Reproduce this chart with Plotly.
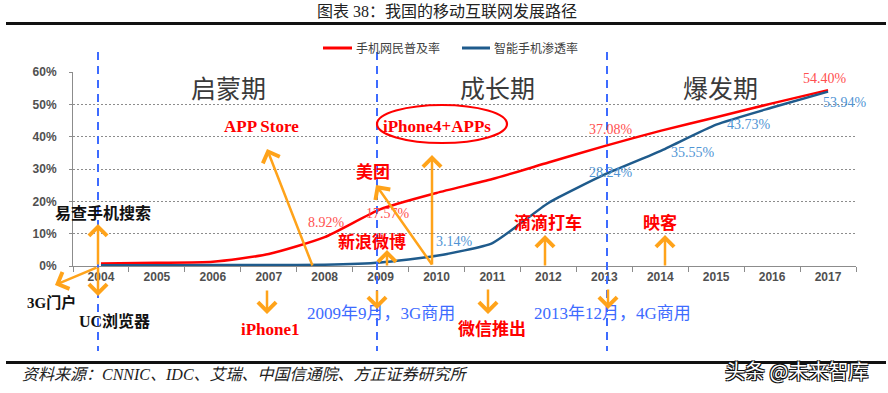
import plotly.graph_objects as go

# ---------------- data ----------------
years = ["2004", "2005", "2006", "2007", "2008", "2009", "2010",
         "2011", "2012", "2013", "2014", "2015", "2016", "2017"]
mobile_netizen_rate = [0.8, 1.0, 1.3, 3.7, 8.92, 17.57, 22.6,
                       26.9, 32.0, 37.08, 41.8, 46.0, 50.3, 54.40]
smartphone_rate = [0.2, 0.2, 0.3, 0.3, 0.4, 1.1, 3.14,
                   7.1, 19.5, 28.24, 35.55, 43.73, 49.0, 53.94]
series_names = ["手机网民普及率", "智能手机渗透率"]
y_ticks = [0, 10, 20, 30, 40, 50, 60]
y_tick_labels = ["0%", "10%", "20%", "30%", "40%", "50%", "60%"]
phase_names = ["启蒙期", "成长期", "爆发期"]
title_text = "图表 38：我国的移动互联网发展路径"
source_text = "资料来源：CNNIC、IDC、艾瑞、中国信通院、方正证券研究所"
watermark = "头条 @未来智库"

# labelled points: (series index, year, value)
labelled = [(0, "2008", 8.92), (0, "2009", 17.57), (1, "2010", 3.14),
            (0, "2013", 37.08), (1, "2013", 28.24), (1, "2014", 35.55),
            (1, "2015", 43.73), (0, "2017", 54.40), (1, "2017", 53.94)]

# ---------------- geometry helpers (pixel -> paper) ----------------
W, H = 888, 393
L, R, T, B = 73, 856, 72, 266


def px(x):
    return (x - L) / (R - L)


def py(y):
    return (B - y) / (B - T)


RED = "#FF0000"
BLUE = "#1F5B8C"
ORANGE = "#FFA31A"
DBLUE = "#3D6BFF"
SERIF = "Liberation Serif, 'Noto Sans CJK SC', serif"
SANS = "Liberation Sans, Arial, 'Noto Sans CJK SC', sans-serif"

fig = go.Figure()
fig.add_trace(go.Scatter(x=years, y=mobile_netizen_rate, name=series_names[0],
                         mode="lines", line=dict(color=RED, width=2.5, shape="spline", smoothing=0.6),
                         showlegend=False))
fig.add_trace(go.Scatter(x=years, y=smartphone_rate, name=series_names[1],
                         mode="lines", line=dict(color=BLUE, width=2.5, shape="spline", smoothing=0.5),
                         showlegend=False))

ann = []
shapes = []


def text(t, x, y, size, color, family=SERIF, weight=400, xanchor="center", style="normal", shadow=None):
    f = dict(size=size, color=color, family=family, weight=weight, style=style)
    if shadow:
        f["shadow"] = shadow
    ann.append(dict(text=t, x=px(x), y=py(y), xref="paper", yref="paper", showarrow=False,
                    xanchor=xanchor, yanchor="middle", font=f))


def arrow(x0, y0, x1, y1):
    # tail (x0,y0) -> head (x1,y1) in pixels
    ann.append(dict(text="", x=px(x1), y=py(y1), xref="paper", yref="paper",
                    ax=x0 - x1, ay=y0 - y1, showarrow=True, arrowhead=4, arrowsize=1.4,
                    arrowwidth=2.5, arrowcolor=ORANGE, standoff=0, startstandoff=0))


# data labels attached to points
shifts = {("2008", 0): (2, 15), ("2009", 0): (7, -4), ("2010", 1): (18, 14),
          ("2013", 0): (7, 17), ("2013", 1): (7, 2), ("2014", 1): (33, -1),
          ("2015", 1): (33, 0), ("2017", 0): (-3, 12), ("2017", 1): (17, -11)}
for s, yr, v in labelled:
    dx, dy = shifts[(yr, s)]
    ann.append(dict(text=f"{v:.2f}%", x=years.index(yr), y=v, xref="x", yref="y", showarrow=False,
                    xshift=dx, yshift=dy,
                    font=dict(size=14, family=SERIF, color="#FF5050" if s == 0 else "#4F94D4")))

# title / source / watermark
text(title_text, 447, 11, 16, "#222", family=SERIF)
text(source_text, 20, 374, 16, "#222", family=SERIF, xanchor="left", style="italic")
text(watermark, 796, 370, 20, "white", family="'Noto Sans CJK SC', sans-serif",
     shadow="-1px -1px 0 #111, 1px -1px 0 #111, -1px 1px 0 #111, 1px 1px 0 #111")

# legend (manual)
shapes.append(dict(type="line", xref="paper", yref="paper", x0=px(323), x1=px(352), y0=py(48), y1=py(48),
                   line=dict(color=RED, width=3)))
text(series_names[0], 354, 48, 12, "#404040", family=SANS, xanchor="left")
shapes.append(dict(type="line", xref="paper", yref="paper", x0=px(462), x1=px(490), y0=py(48), y1=py(48),
                   line=dict(color=BLUE, width=3)))
text(series_names[1], 492, 48, 12, "#404040", family=SANS, xanchor="left")

# phase names
for name, cx in zip(phase_names, [228, 497, 720]):
    text(name, cx, 87, 25, "#3a3a3a", family="'Noto Sans CJK SC', sans-serif")

# vertical dashed phase separators
for vx in [98, 377, 607]:
    shapes.append(dict(type="line", xref="paper", yref="paper", x0=px(vx), x1=px(vx),
                       y0=py(52), y1=py(351), line=dict(color=DBLUE, width=2, dash="8px,6px")))

# thick horizontal rules
for hy in [23.5, 362.5]:
    shapes.append(dict(type="line", xref="paper", yref="paper", x0=px(6), x1=px(886),
                       y0=py(hy), y1=py(hy), line=dict(color="#111", width=3)))

# ellipse around iPhone4+APPs
shapes.append(dict(type="circle", xref="paper", yref="paper", x0=px(377), x1=px(507),
                   y0=py(143), y1=py(105), line=dict(color=RED, width=2.2)))

# event labels
text("APP Store", 261, 126, 17, RED, weight=700)
text("iPhone4+APPs", 437, 126, 17, RED, weight=700)
text("美团", 373, 172, 17, RED, weight=700)
text("新浪微博", 372, 242, 17, RED, weight=700)
text("滴滴打车", 548, 223, 17, RED, weight=700)
text("映客", 660, 223, 17, RED, weight=700)
text("iPhone1", 270, 329, 17, RED, weight=700)
text("微信推出", 492, 329, 17, RED, weight=700)
text("2009年9月，3G商用", 381, 313, 17, DBLUE)
text("2013年12月，4G商用", 612, 313, 17, DBLUE)
text("易查手机搜索", 103, 213, 16, "#111", weight=700)
text("3G门户", 51, 302, 15, "#111", weight=700)
text("UC浏览器", 114, 321, 16, "#111", weight=700)

# arrows
arrow(98, 266, 98, 224)
arrow(98, 266, 98, 296)
arrow(98, 267, 55, 285)
arrow(313, 267, 267, 149)
arrow(267, 289, 267, 314)
arrow(433, 266, 376, 185)
arrow(432, 266, 432, 155)
arrow(387, 267, 387, 250)
arrow(377, 289, 377, 309)
arrow(488, 288, 488, 314)
arrow(608, 288, 608, 309)
arrow(545, 267, 545, 235)
arrow(665, 267, 665, 235)

fig.update_layout(
    width=W, height=H,
    margin=dict(l=L, r=W - R, t=T, b=H - B),
    paper_bgcolor="white", plot_bgcolor="white",
    annotations=ann, shapes=shapes,
    xaxis=dict(type="category", categoryorder="array", categoryarray=years,
               range=[-0.5, len(years) - 0.5],
               showline=True, linecolor="#8c8c8c", linewidth=1,
               ticks="outside", tickson="boundaries", ticklen=5, tickcolor="#8c8c8c",
               showgrid=False, zeroline=False,
               tickfont=dict(size=12, family=SANS, color="#505050", weight=700)),
    yaxis=dict(range=[0, 60], tickmode="array", tickvals=y_ticks, ticktext=y_tick_labels,
               showline=True, linecolor="#8c8c8c", linewidth=1,
               ticks="outside", ticklen=3, tickcolor="#8c8c8c",
               showgrid=True, gridcolor="#8c8c8c", gridwidth=1, griddash="2px,2px",
               zeroline=False, ticklabelstandoff=10,
               tickfont=dict(size=12, family=SANS, color="#505050", weight=700)),
)

fig.write_html("out.html")
